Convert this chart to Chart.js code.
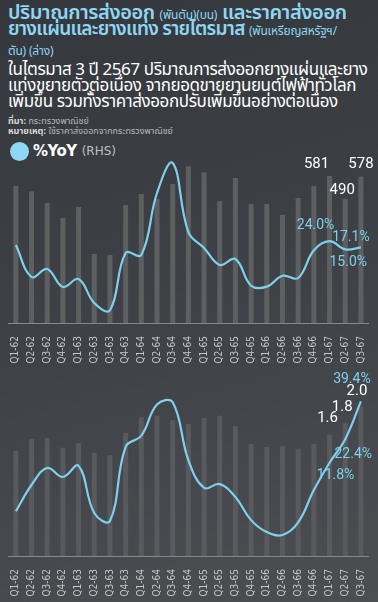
<!DOCTYPE html>
<html><head><meta charset="utf-8">
<script src="https://cdn.jsdelivr.net/npm/chart.js@4.4.1/dist/chart.umd.min.js"></script>
<style>
html,body{margin:0;padding:0;}
body{width:378px;height:602px;overflow:hidden;position:relative;
background:linear-gradient(165deg,#34373c 0%,#3e4146 50%,#4c4e52 100%);
font-family:'Noto Sans Thai','Noto Sans Thai Looped','Loma','Garuda','Noto Sans',sans-serif;}
.t{position:absolute;left:8px;color:#8fd6f3;font-size:20px;line-height:20px;height:20px;font-weight:600;white-space:nowrap;letter-spacing:-0.4px}
.t small{font-size:12px;font-weight:400;letter-spacing:-0.2px}
#t1{top:3px}
#t2{top:20px;font-size:19px;letter-spacing:-0.7px}
#t3{top:39px}
#sub{position:absolute;left:8px;top:62px;color:#fff;font-size:17px;line-height:16px;white-space:nowrap;letter-spacing:-0.4px}
#src{position:absolute;left:8px;top:116px;color:#b9babc;font-size:9px;line-height:10px;white-space:nowrap}
#src b{color:#d8d8d8}
#leg{position:absolute;left:10px;top:141px;height:20px;display:flex;align-items:center;white-space:nowrap}
#leg .dot{width:19px;height:19px;border-radius:50%;background:#8fd8f5;margin-right:4px}
#leg .a{color:#fff;font-weight:700;font-size:15px;font-family:'DejaVu Sans',sans-serif;letter-spacing:-0.5px}
#leg .b{color:#bfc0c2;font-size:12px;margin-left:5px;font-family:'DejaVu Sans',sans-serif}
canvas{position:absolute;left:0}
#c1{top:140px}
#c2{top:360px}
</style></head>
<body>
<div class="t" id="t1">ปริมาณการส่งออก <small>(พันตัน)(บน)</small> และราคาส่งออก</div>
<div class="t" id="t2">ยางแผ่นและยางแท่ง รายไตรมาส <small>(พันเหรียญสหรัฐฯ/</small></div>
<div class="t" id="t3"><small>ตัน) (ล่าง)</small></div>
<div id="sub">ในไตรมาส 3 ปี 2567 ปริมาณการส่งออกยางแผ่นและยาง<br>แท่งขยายตัวต่อเนื่อง จากยอดขายยานยนต์ไฟฟ้าทั่วโลก<br>เพิ่มขึ้น รวมทั้งราคาส่งออกปรับเพิ่มขึ้นอย่างต่อเนื่อง</div>
<div id="src"><b>ที่มา:</b> กระทรวงพาณิชย์<br><b>หมายเหตุ:</b> ใช้ราคาส่งออกจากกระทรวงพาณิชย์</div>
<div id="leg"><div class="dot"></div><span class="a">%YoY</span><span class="b">(RHS)</span></div>
<canvas id="c1" width="378" height="232"></canvas>
<canvas id="c2" width="378" height="242"></canvas>
<script>
const quarters = ['Q1-62','Q2-62','Q3-62','Q4-62','Q1-63','Q2-63','Q3-63','Q4-63','Q1-64','Q2-64','Q3-64','Q4-64','Q1-65','Q2-65','Q3-65','Q4-65','Q1-66','Q2-66','Q3-66','Q4-66','Q1-67','Q2-67','Q3-67'];
const exportVolume = [541,521,474,415,458,273,269,466,510,490,549,620,596,482,573,470,470,427,494,541,581,490,578];
const volumeYoY = [19.8,-15.4,-6.6,-26.4,-17.6,-44,-52,11,8.8,77,110,34,16.5,-2.2,4.4,-25,-26,-14,-16.5,14,24.0,15.0,17.1];
const exportPrice = [1.41,1.57,1.58,1.45,1.51,1.38,1.35,1.65,1.86,1.88,1.82,1.77,1.85,1.88,1.74,1.50,1.46,1.47,1.43,1.50,1.63,1.78,2.0];
const priceYoY = [-10,1.8,9.5,5.4,10.4,-10.8,-14.4,19,24,38,39,13,0.5,2.2,-3.6,-14,-19.4,-20.7,-15,-0.5,11.8,22.4,39.4];

const LINE = '#7fd0ec';
const numFont = "'Liberation Sans Narrow','Roboto','DejaVu Sans',sans-serif";

function labelPlugin(specs){
  return {id:'lbls', afterDatasetsDraw(chart){
    const ctx = chart.ctx;
    ctx.save();
    specs.forEach(s=>{
      const meta = chart.getDatasetMeta(s.ds);
      const el = meta.data[s.i];
      const v = chart.data.datasets[s.ds].data[s.i];
      const txt = s.fmt(v);
      ctx.font = s.font;
      ctx.fillStyle = s.color;
      ctx.textAlign = 'center';
      ctx.textBaseline = 'middle';
      ctx.fillText(txt, el.x + s.dx, el.y + s.dy);
    });
    ctx.restore();
  }};
}

function makeChart(id, bars, line, barMax, lineMin, lineMax, padTop, axisH, barColor, specs){
  return new Chart(document.getElementById(id), {
    type:'bar',
    data:{labels:quarters, datasets:[
      {type:'line', data:line, yAxisID:'y2', borderColor:LINE, borderWidth:2.2, pointRadius:0, tension:0.4, order:0, fill:false},
      {type:'bar', data:bars, yAxisID:'y', backgroundColor:barColor, barPercentage:0.32, categoryPercentage:1, order:1}
    ]},
    options:{responsive:false, animation:false,
      layout:{padding:{left:8,right:4,top:padTop,bottom:0}},
      plugins:{legend:{display:false}, tooltip:{enabled:false}},
      scales:{
        x:{grid:{display:false}, border:{color:'#85878b',width:1},
           ticks:{color:'#c6c7c9', font:{size:10, family:"'DejaVu Sans Condensed','DejaVu Sans',sans-serif"}, minRotation:90, maxRotation:90, autoSkip:false, padding:5},
           afterFit:(s)=>{s.height = axisH;}},
        y:{display:false, min:0, max:barMax},
        y2:{display:false, min:lineMin, max:lineMax}
      }
    },
    plugins:[labelPlugin(specs)]
  });
}

const f0 = v=>String(Math.round(v));
const f1 = v=>v.toFixed(1);
const fp = v=>v.toFixed(1)+'%';
const wFont = "15px " + numFont;
const bFont = "14px " + numFont;

makeChart('c1', exportVolume, volumeYoY, 664, -66, 118.8, 15, 49, '#5e5f61', [
  {ds:1,i:20,fmt:f0,dx:-13,dy:-12,color:'#ffffff',font:wFont},
  {ds:1,i:21,fmt:f0,dx:-3,dy:-9,color:'#ffffff',font:wFont},
  {ds:1,i:22,fmt:f0,dx:0,dy:-13,color:'#ffffff',font:wFont},
  {ds:0,i:20,fmt:fp,dx:-14,dy:-16,color:LINE,font:bFont},
  {ds:0,i:22,fmt:fp,dx:-10,dy:-10,color:LINE,font:bFont},
  {ds:0,i:21,fmt:fp,dx:3,dy:13,color:LINE,font:bFont}
]);

makeChart('c2', exportPrice, priceYoY, 2.56, -30.15, 55.8, 5, 46, '#595a5d', [
  {ds:0,i:22,fmt:fp,dx:-9,dy:-22,color:LINE,font:bFont},
  {ds:1,i:22,fmt:f1,dx:-4,dy:-16,color:'#ffffff',font:wFont},
  {ds:1,i:21,fmt:f1,dx:-3,dy:-16,color:'#ffffff',font:wFont},
  {ds:1,i:20,fmt:f1,dx:-2,dy:-16,color:'#ffffff',font:wFont},
  {ds:0,i:21,fmt:fp,dx:8,dy:15,color:LINE,font:bFont},
  {ds:0,i:20,fmt:fp,dx:6,dy:13,color:LINE,font:bFont}
]);
</script>
</body></html>
